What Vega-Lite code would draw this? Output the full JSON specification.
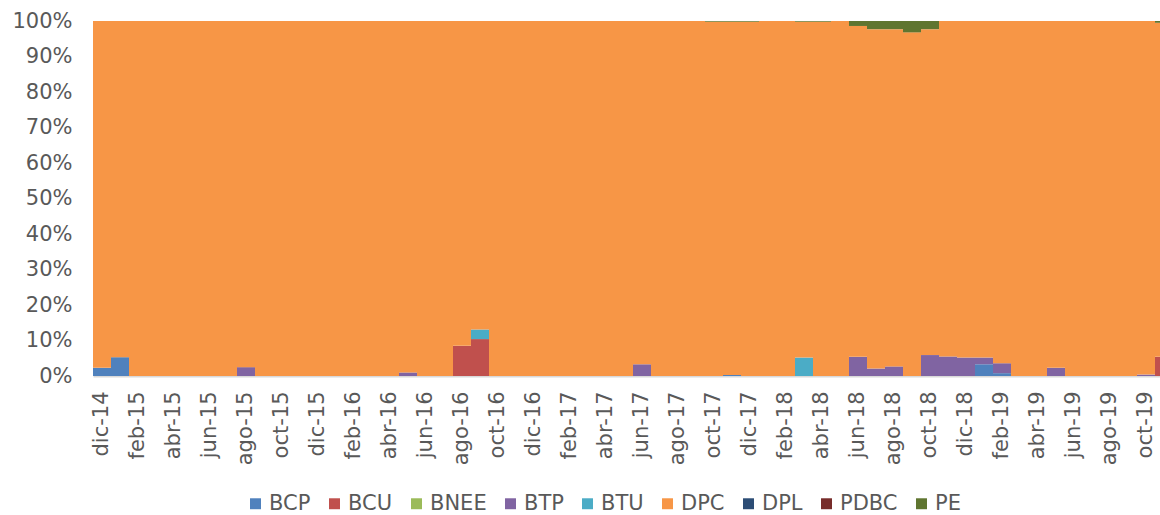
{
  "$schema": "https://vega.github.io/schema/vega-lite/v6.json",
  "autosize": {"type": "none"},
  "width": 1067,
  "height": 355,
  "padding": {"left": 93, "top": 21, "right": 0, "bottom": 139},
  "background": "#ffffff",
  "data": {
    "values": [
      {"m": "dic-14", "s": "BCP", "v": 2.3}, {"m": "dic-14", "s": "DPC", "v": 97.7},
      {"m": "ene-15", "s": "BCP", "v": 5.3}, {"m": "ene-15", "s": "DPC", "v": 94.7},
      {"m": "feb-15", "s": "DPC", "v": 100},
      {"m": "mar-15", "s": "DPC", "v": 100},
      {"m": "abr-15", "s": "DPC", "v": 100},
      {"m": "may-15", "s": "DPC", "v": 100},
      {"m": "jun-15", "s": "DPC", "v": 100},
      {"m": "jul-15", "s": "DPC", "v": 100},
      {"m": "ago-15", "s": "BTP", "v": 2.5}, {"m": "ago-15", "s": "DPC", "v": 97.5},
      {"m": "sep-15", "s": "DPC", "v": 100},
      {"m": "oct-15", "s": "DPC", "v": 100},
      {"m": "nov-15", "s": "DPC", "v": 100},
      {"m": "dic-15", "s": "DPC", "v": 100},
      {"m": "ene-16", "s": "DPC", "v": 100},
      {"m": "feb-16", "s": "DPC", "v": 100},
      {"m": "mar-16", "s": "DPC", "v": 100},
      {"m": "abr-16", "s": "DPC", "v": 100},
      {"m": "may-16", "s": "BTP", "v": 1.0}, {"m": "may-16", "s": "DPC", "v": 99.0},
      {"m": "jun-16", "s": "DPC", "v": 100},
      {"m": "jul-16", "s": "DPC", "v": 100},
      {"m": "ago-16", "s": "BCU", "v": 8.5}, {"m": "ago-16", "s": "DPC", "v": 91.5},
      {"m": "sep-16", "s": "BCU", "v": 10.4}, {"m": "sep-16", "s": "BTU", "v": 2.7}, {"m": "sep-16", "s": "DPC", "v": 86.9},
      {"m": "oct-16", "s": "DPC", "v": 100},
      {"m": "nov-16", "s": "DPC", "v": 100},
      {"m": "dic-16", "s": "DPC", "v": 100},
      {"m": "ene-17", "s": "DPC", "v": 100},
      {"m": "feb-17", "s": "DPC", "v": 100},
      {"m": "mar-17", "s": "DPC", "v": 100},
      {"m": "abr-17", "s": "DPC", "v": 100},
      {"m": "may-17", "s": "DPC", "v": 100},
      {"m": "jun-17", "s": "BTP", "v": 3.3}, {"m": "jun-17", "s": "DPC", "v": 96.7},
      {"m": "jul-17", "s": "DPC", "v": 100},
      {"m": "ago-17", "s": "DPC", "v": 100},
      {"m": "sep-17", "s": "DPC", "v": 100},
      {"m": "oct-17", "s": "DPC", "v": 99.8}, {"m": "oct-17", "s": "PE", "v": 0.2},
      {"m": "nov-17", "s": "BCP", "v": 0.3}, {"m": "nov-17", "s": "DPC", "v": 99.5}, {"m": "nov-17", "s": "PE", "v": 0.2},
      {"m": "dic-17", "s": "DPC", "v": 99.8}, {"m": "dic-17", "s": "PE", "v": 0.2},
      {"m": "ene-18", "s": "DPC", "v": 100},
      {"m": "feb-18", "s": "DPC", "v": 100},
      {"m": "mar-18", "s": "BTU", "v": 5.2}, {"m": "mar-18", "s": "DPC", "v": 94.6}, {"m": "mar-18", "s": "PE", "v": 0.2},
      {"m": "abr-18", "s": "DPC", "v": 99.8}, {"m": "abr-18", "s": "PE", "v": 0.2},
      {"m": "may-18", "s": "DPC", "v": 100},
      {"m": "jun-18", "s": "BTP", "v": 5.4}, {"m": "jun-18", "s": "DPC", "v": 93.2}, {"m": "jun-18", "s": "PE", "v": 1.4},
      {"m": "jul-18", "s": "BTP", "v": 2.1}, {"m": "jul-18", "s": "DPC", "v": 95.6}, {"m": "jul-18", "s": "PE", "v": 2.3},
      {"m": "ago-18", "s": "BTP", "v": 2.7}, {"m": "ago-18", "s": "DPC", "v": 95.0}, {"m": "ago-18", "s": "PE", "v": 2.3},
      {"m": "sep-18", "s": "DPC", "v": 96.8}, {"m": "sep-18", "s": "PE", "v": 3.2},
      {"m": "oct-18", "s": "BTP", "v": 5.9}, {"m": "oct-18", "s": "DPC", "v": 91.8}, {"m": "oct-18", "s": "PE", "v": 2.3},
      {"m": "nov-18", "s": "BTP", "v": 5.5}, {"m": "nov-18", "s": "DPC", "v": 94.5},
      {"m": "dic-18", "s": "BTP", "v": 5.2}, {"m": "dic-18", "s": "DPC", "v": 94.8},
      {"m": "ene-19", "s": "BCP", "v": 3.3}, {"m": "ene-19", "s": "BTP", "v": 1.9}, {"m": "ene-19", "s": "DPC", "v": 94.8},
      {"m": "feb-19", "s": "BCP", "v": 0.8}, {"m": "feb-19", "s": "BTP", "v": 2.8}, {"m": "feb-19", "s": "DPC", "v": 96.4},
      {"m": "mar-19", "s": "DPC", "v": 100},
      {"m": "abr-19", "s": "DPC", "v": 100},
      {"m": "may-19", "s": "BTP", "v": 2.3}, {"m": "may-19", "s": "DPC", "v": 97.7},
      {"m": "jun-19", "s": "DPC", "v": 100},
      {"m": "jul-19", "s": "DPC", "v": 100},
      {"m": "ago-19", "s": "DPC", "v": 100},
      {"m": "sep-19", "s": "DPC", "v": 100},
      {"m": "oct-19", "s": "BTP", "v": 0.4}, {"m": "oct-19", "s": "DPC", "v": 99.6},
      {"m": "nov-19", "s": "BCU", "v": 5.4}, {"m": "nov-19", "s": "DPC", "v": 94.1}, {"m": "nov-19", "s": "PE", "v": 0.5}
    ]
  },
  "mark": {"type": "bar"},
  "encoding": {
    "x": {
      "field": "m",
      "type": "ordinal",
      "sort": ["dic-14","ene-15","feb-15","mar-15","abr-15","may-15","jun-15","jul-15","ago-15","sep-15","oct-15","nov-15","dic-15","ene-16","feb-16","mar-16","abr-16","may-16","jun-16","jul-16","ago-16","sep-16","oct-16","nov-16","dic-16","ene-17","feb-17","mar-17","abr-17","may-17","jun-17","jul-17","ago-17","sep-17","oct-17","nov-17","dic-17","ene-18","feb-18","mar-18","abr-18","may-18","jun-18","jul-18","ago-18","sep-18","oct-18","nov-18","dic-18","ene-19","feb-19","mar-19","abr-19","may-19","jun-19","jul-19","ago-19","sep-19","oct-19","nov-19"],
      "scale": {"type": "band", "paddingInner": 0, "paddingOuter": 0, "range": [0, 1080]},
      "axis": {
        "title": null,
        "values": ["dic-14","feb-15","abr-15","jun-15","ago-15","oct-15","dic-15","feb-16","abr-16","jun-16","ago-16","oct-16","dic-16","feb-17","abr-17","jun-17","ago-17","oct-17","dic-17","feb-18","abr-18","jun-18","ago-18","oct-18","dic-18","feb-19","abr-19","jun-19","ago-19","oct-19"],
        "labelAngle": 270,
        "labelAlign": "right",
        "labelBaseline": "middle",
        "labelPadding": 15,
        "labelFont": "DejaVu Sans",
        "labelFontSize": 21,
        "labelColor": "#595959",
        "labelOverlap": false,
        "ticks": false,
        "domainColor": "#D9D9D9",
        "domainWidth": 2,
        "grid": false
      }
    },
    "y": {
      "field": "v",
      "type": "quantitative",
      "stack": "normalize",
      "scale": {"domain": [0, 1]},
      "axis": {
        "title": null,
        "format": ".0%",
        "values": [0, 0.1, 0.2, 0.3, 0.4, 0.5, 0.6, 0.7, 0.8, 0.9, 1],
        "labelFont": "DejaVu Sans",
        "labelFontSize": 21,
        "labelColor": "#595959",
        "labelPadding": 21,
        "domain": false,
        "ticks": false,
        "grid": false
      }
    },
    "order": {"field": "s", "sort": "ascending"},
    "color": {
      "field": "s",
      "type": "nominal",
      "scale": {
        "domain": ["BCP", "BCU", "BNEE", "BTP", "BTU", "DPC", "DPL", "PDBC", "PE"],
        "range": ["#4F81BD", "#C0504D", "#9BBB59", "#8064A2", "#4BACC6", "#F79646", "#2C4D75", "#772C2A", "#5F7530"]
      },
      "legend": {
        "title": null,
        "orient": "none",
        "legendX": 152,
        "legendY": 472,
        "direction": "horizontal",
        "symbolType": "square",
        "symbolSize": 120,
        "symbolStrokeWidth": 0,
        "labelFont": "DejaVu Sans",
        "labelFontSize": 21,
        "labelColor": "#595959",
        "labelOffset": 3,
        "columnPadding": 13
      }
    }
  },
  "config": {
    "view": {"stroke": null}
  }
}
